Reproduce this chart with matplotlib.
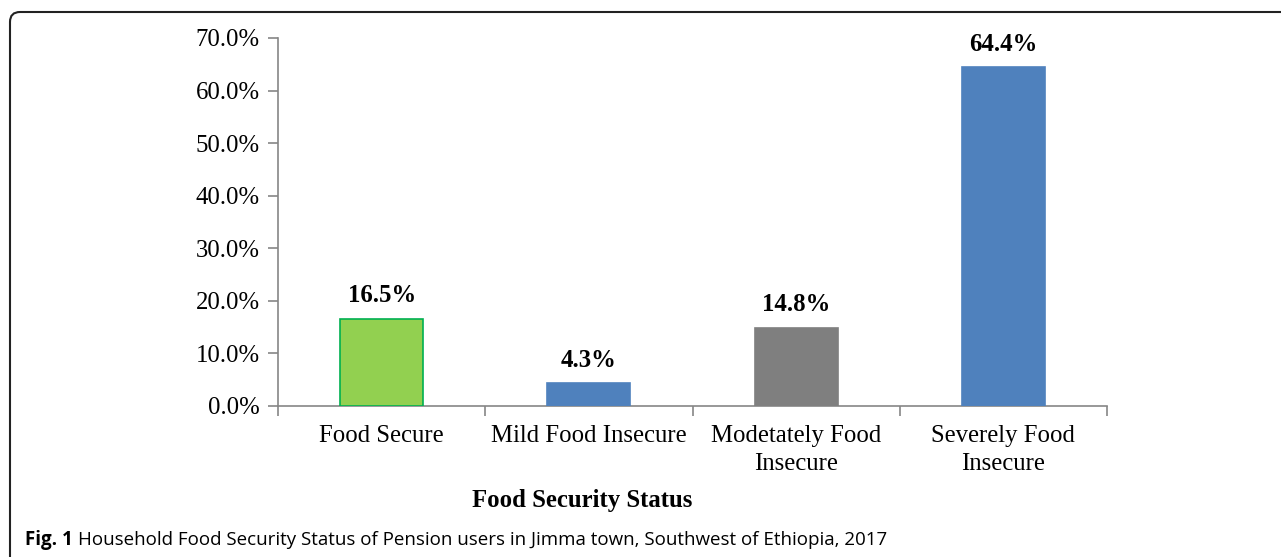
import matplotlib
matplotlib.use("Agg")
import matplotlib.pyplot as plt
from matplotlib.patches import FancyBboxPatch

# data
categories = ["Food Secure", "Mild Food Insecure", "Modetately Food\nInsecure", "Severely Food\nInsecure"]
values = [16.5, 4.3, 14.8, 64.4]
bar_colors = ["#92D050", "#4F81BD", "#7F7F7F", "#4F81BD"]
edge_colors = ["#00B050", "#4F81BD", "#7F7F7F", "#4F81BD"]
yticks = [0, 10, 20, 30, 40, 50, 60, 70]

serif = "Liberation Serif"
fs = 17.8

fig = plt.figure(figsize=(12.81, 5.57), dpi=100)
ax = fig.add_axes([278 / 1281, 1 - 406 / 557, (1107 - 278) / 1281, (406 - 38) / 557])

x = range(len(categories))
ax.bar(x, values, width=0.4, color=bar_colors, edgecolor=edge_colors, linewidth=1.2, zorder=3)
for xi, v in zip(x, values):
    ax.annotate(f"{v:.1f}%", (xi, v), xytext=(0, 8.5), textcoords="offset points",
                ha="center", va="bottom", fontsize=fs, fontweight="bold", family=serif)

ax.set_xlim(-0.5, len(categories) - 0.5)
ax.set_ylim(0, 70)
ax.set_yticks(yticks)
ax.set_yticklabels([f"{t:.1f}%" for t in yticks], family=serif, fontsize=fs)
ax.set_xticks([i - 0.5 for i in range(len(categories) + 1)])
ax.set_xticklabels([])
ax.set_xticks(list(x), minor=True)
ax.set_xticklabels(categories, minor=True, family=serif, fontsize=fs, linespacing=1.3)
ax.tick_params(axis="x", which="minor", length=0, pad=14)
ax.tick_params(axis="x", which="major", length=7, color="#868686", width=1.2)
ax.tick_params(axis="y", length=7, color="#868686", width=1.2, pad=6)

for s in ["top", "right"]:
    ax.spines[s].set_visible(False)
for s in ["left", "bottom"]:
    ax.spines[s].set_color("#868686")
    ax.spines[s].set_linewidth(1.2)

fig.text(582 / 1281, 1 - 500 / 557, "Food Security Status", ha="center", va="center",
         fontsize=fs, fontweight="bold", family=serif)

# caption under the chart
t1 = fig.text(25 / 1281, 1 - 540 / 557, "Fig. 1", ha="left", va="center",
              fontsize=13.5, fontweight="bold", family="Open Sans")
fig.canvas.draw()
bb = t1.get_window_extent()
fig.text((bb.x1 + 5) / 1281, 1 - 540 / 557,
         "Household Food Security Status of Pension users in Jimma town, Southwest of Ethiopia, 2017",
         ha="left", va="center", fontsize=13.5, family="Open Sans")

frame = FancyBboxPatch((10, -30), 1320, 557 - 12 + 30, boxstyle="round,pad=0,rounding_size=10",
                       transform=None, fill=False, edgecolor="#222222", linewidth=1.5)
fig.patches.append(frame)

fig.savefig("out.png", dpi=100)
